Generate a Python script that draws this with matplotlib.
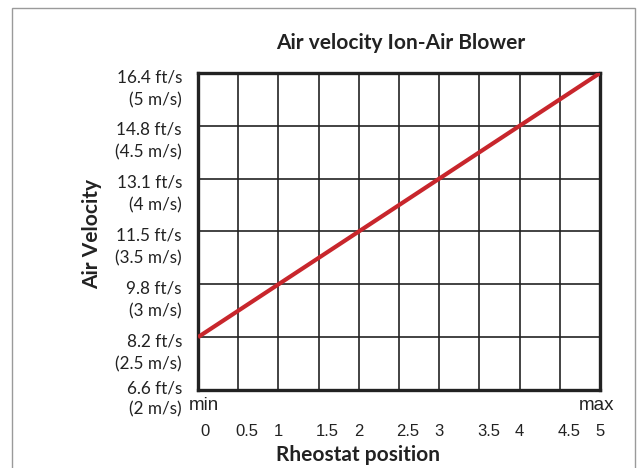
import matplotlib
matplotlib.use('Agg')
import matplotlib.pyplot as plt
from matplotlib.patches import Rectangle

# Данные графика
rheostat = [0, 5]
velocity_ms = [2.5, 5]

x_ticks = [0, 0.5, 1, 1.5, 2, 2.5, 3, 3.5, 4, 4.5, 5]
y_ticks = [2, 2.5, 3, 3.5, 4, 4.5, 5]
y_ft = ['6.6 ft/s', '8.2 ft/s', '9.8 ft/s', '11.5 ft/s', '13.1 ft/s', '14.8 ft/s', '16.4 ft/s']
y_ms = ['(2 m/s)', '(2.5 m/s)', '(3 m/s)', '(3.5 m/s)', '(4 m/s)', '(4.5 m/s)', '(5 m/s)']

W, H = 639, 468
fig = plt.figure(figsize=(W / 100, H / 100), dpi=100)

# Рамка вокруг всей картинки
fig.patches.append(Rectangle((12 / W, -0.05), 623 / W, 1 - 8 / H + 0.05,
                             transform=fig.transFigure, fill=False,
                             edgecolor='#9a9a9a', linewidth=1.0))

left, right, top, bottom = 198, 600, 73, 390
ax = fig.add_axes([left / W, 1 - bottom / H, (right - left) / W, (bottom - top) / H])

ax.plot(rheostat, velocity_ms, color='#c8262c', linewidth=3.0, solid_capstyle='butt', zorder=3)

ax.set_xlim(0, 5)
ax.set_ylim(2, 5)
ax.set_xticks(x_ticks)
ax.set_yticks(y_ticks)
ax.grid(True, color='#222222', linewidth=1.2)
ax.tick_params(length=0, labelbottom=False, labelleft=False)
for s in ax.spines.values():
    s.set_linewidth(2.4)
    s.set_color('#222222')

lab_font = dict(family=['Lato', 'DejaVu Sans'], fontsize=12.3, color='#222222')
arial = dict(family=['Liberation Sans', 'DejaVu Sans'], fontsize=12, color='#222222')
bold = dict(family=['Lato', 'DejaVu Sans'], fontsize=15, fontweight='bold', color='#222222')

# Подписи оси Y: две строки, первая чуть ниже линии сетки (нижняя поджата)
for v, ft, ms in zip(y_ticks, y_ft, y_ms):
    off_ft, off_ms = (2, -19) if v == y_ticks[0] else (-4, -27)
    ax.annotate(ft, (0, v), xytext=(-16, off_ft), textcoords='offset pixels',
                ha='right', va='center', **lab_font)
    ax.annotate(ms, (0, v), xytext=(-16, off_ms), textcoords='offset pixels',
                ha='right', va='center', **lab_font)

# Подписи оси X (половинки в оригинале чуть сдвинуты вправо)
for v in x_ticks:
    dx = 7 if v == 0 else (9 if v % 1 else 0)
    ax.annotate(f'{v:g}', (v, 2), xytext=(dx, -42), textcoords='offset pixels',
                ha='center', va='center', **arial)
ax.annotate('min', (0, 2), xytext=(6, -15), textcoords='offset pixels',
            ha='center', va='center', **dict(arial, fontsize=13.5))
ax.annotate('max', (5, 2), xytext=(-3, -15), textcoords='offset pixels',
            ha='center', va='center', **dict(arial, fontsize=13.5))

fig.text(401 / W, 1 - 43 / H, 'Air velocity Ion-Air Blower', ha='center', va='center', **bold)
fig.text(358 / W, 1 - 455 / H, 'Rheostat position', ha='center', va='center', **bold)
fig.text(92 / W, 1 - 234 / H, 'Air Velocity', ha='center', va='center', rotation=90, **bold)

fig.savefig('out.png', dpi=100)
